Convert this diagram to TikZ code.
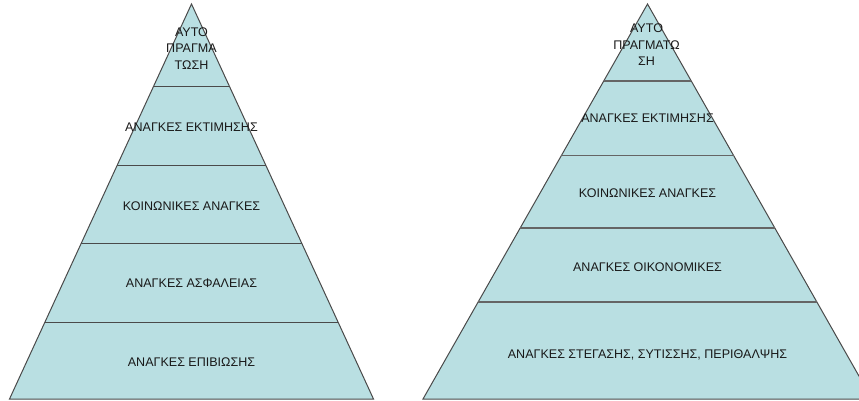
\documentclass[tikz,border=0pt]{standalone}
\usepackage{fontspec}
\setmainfont{Liberation Sans}
\usetikzlibrary{calc}
\definecolor{pyrfill}{HTML}{B9DFE2}
\definecolor{pyrline}{HTML}{4A4A4A}
\begin{document}
\begin{tikzpicture}[x=0.75pt, y=-0.75pt,
    band/.style={draw=pyrline, line width=0.75pt},
    wideband/.style={draw=pyrline!85, line width=1.1pt},
    lvl/.style={font=\fontsize{9.4}{12.4}\selectfont, align=center, inner sep=0pt, text=black!90}]
    \useasboundingbox (0,0) rectangle (859,400);
    \clip (0,0) rectangle (859,400);
    % left pyramid
    \coordinate (lt) at (191.5,4);
    \coordinate (lbl) at (9.5,399);
    \coordinate (lbr) at (373.5,399);
    \draw[band, fill=pyrfill] (lt) -- (lbr) -- (lbl) -- cycle;
    \foreach \f in {0.2101,0.4101,0.6051,0.8051}
        \draw[band] ($(lt)!\f!(lbl)$) -- ($(lt)!\f!(lbr)$);
    % right pyramid
    \coordinate (rt) at (647.5,4);
    \coordinate (rbl) at (423,399);
    \coordinate (rbr) at (872,399);
    \draw[band, fill=pyrfill] (rt) -- (rbr) -- (rbl) -- cycle;
    \foreach \f in {0.195,0.384,0.567,0.754}
        \draw[wideband] ($(rt)!\f!(rbl)$) -- ($(rt)!\f!(rbr)$);
    % left labels
    \node[lvl] (l5) at (191.5,48.5) {ΑΥΤΟ\\ΠΡΑΓΜΑ\\ΤΩΣΗ};
    \node[lvl] (l4) at (191.5,127) {ΑΝΑΓΚΕΣ ΕΚΤΙΜΗΣΗΣ};
    \node[lvl] (l3) at (191.5,206) {ΚΟΙΝΩΝΙΚΕΣ ΑΝΑΓΚΕΣ};
    \node[lvl] (l2) at (191.5,283) {ΑΝΑΓΚΕΣ ΑΣΦΑΛΕΙΑΣ};
    \node[lvl] (l1) at (191.5,362) {ΑΝΑΓΚΕΣ ΕΠΙΒΙΩΣΗΣ};
    % right labels
    \node[lvl] (r5) at (646.5,45) {ΑΥΤΟ\\ΠΡΑΓΜΑΤΩ\\ΣΗ};
    \node[lvl] (r4) at (647.5,118) {ΑΝΑΓΚΕΣ ΕΚΤΙΜΗΣΗΣ};
    \node[lvl] (r3) at (647.5,193) {ΚΟΙΝΩΝΙΚΕΣ ΑΝΑΓΚΕΣ};
    \node[lvl] (r2) at (647.5,267) {ΑΝΑΓΚΕΣ ΟΙΚΟΝΟΜΙΚΕΣ};
    \node[lvl] (r1) at (647.5,355) {ΑΝΑΓΚΕΣ ΣΤΕΓΑΣΗΣ, ΣΥΤΙΣΣΗΣ, ΠΕΡΙΘΑΛΨΗΣ};
\end{tikzpicture}
\end{document}
